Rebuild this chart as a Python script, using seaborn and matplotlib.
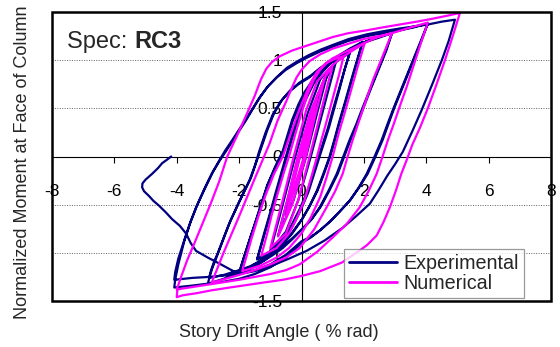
import matplotlib
matplotlib.use("Agg")
import matplotlib.pyplot as plt
from matplotlib.lines import Line2D
from matplotlib.patches import Rectangle
import pandas as pd
import seaborn as sns

# ---- Story drift (% rad) vs normalized moment at column face, specimen RC3 ----
# Experimental response, one list of (drift, moment) per drift level
exp_050 = [(0.0, 0.0), (0.25, 0.3), (0.55, 0.62), (0.3, 0.3), (0.1, 0.0), (-0.2, -0.3),
           (-0.5, -0.6), (-0.3, -0.3), (-0.05, 0.0), (0.25, 0.35), (0.55, 0.62)]
exp_075 = [(0.8, 0.82), (0.5, 0.45), (0.15, 0.0), (-0.25, -0.45), (-0.75, -0.82),
           (-0.45, -0.45), (-0.1, 0.0), (0.3, 0.45), (0.8, 0.82)]
exp_100 = [(1.1, 0.98), (0.75, 0.55), (0.3, 0.0), (-0.1, -0.45), (-0.5, -0.78), (-1.0, -0.98),
           (-0.7, -0.62), (-0.4, -0.25), (-0.2, 0.0), (0.2, 0.45), (0.6, 0.8), (1.1, 0.98)]
exp_150 = [(1.55, 1.08), (1.38, 0.9), (1.2, 0.7), (1.02, 0.5), (0.85, 0.3), (0.55, 0.0),
           (0.2, -0.35), (-0.05, -0.54), (-0.3, -0.7), (-0.55, -0.84), (-0.85, -0.95),
           (-1.15, -1.02), (-1.42, -1.06), (-1.2, -0.8), (-1.02, -0.6), (-0.85, -0.4),
           (-0.5, 0.0), (-0.3, 0.22), (-0.1, 0.42), (0.12, 0.6), (0.35, 0.75), (0.62, 0.87),
           (0.9, 0.96), (1.2, 1.03), (1.55, 1.08),
           (1.38, 0.9), (1.22, 0.7), (1.05, 0.5), (0.88, 0.3), (0.58, 0.0), (0.22, -0.37),
           (-0.03, -0.56), (-0.28, -0.72), (-0.55, -0.86), (-0.85, -0.97), (-1.15, -1.03),
           (-1.42, -1.07), (-1.18, -0.8), (-1.0, -0.6), (-0.82, -0.4), (-0.47, 0.0),
           (-0.27, 0.22), (-0.07, 0.42), (0.15, 0.6), (0.38, 0.75), (0.65, 0.87),
           (0.93, 0.97), (1.22, 1.04), (1.56, 1.09)]
exp_200 = [(1.96, 1.19), (1.78, 1.0), (1.6, 0.8), (1.4, 0.57), (1.2, 0.35), (1.05, 0.17),
           (0.9, 0.0), (0.7, -0.18), (0.5, -0.35), (0.25, -0.52), (0.0, -0.66), (-0.3, -0.8),
           (-0.6, -0.91), (-0.9, -1.0), (-1.2, -1.08), (-1.6, -1.16), (-2.0, -1.22),
           (-1.85, -1.05), (-1.68, -0.88), (-1.5, -0.7), (-1.3, -0.5), (-1.1, -0.3),
           (-0.85, -0.11), (-0.6, 0.06), (-0.45, 0.22), (-0.3, 0.38), (-0.1, 0.54),
           (0.1, 0.67), (0.35, 0.79), (0.6, 0.89), (0.9, 0.98), (1.2, 1.05), (1.55, 1.12),
           (1.96, 1.19),
           (1.8, 1.0), (1.62, 0.8), (1.42, 0.57), (1.22, 0.35), (1.07, 0.17), (0.92, 0.0),
           (0.72, -0.18), (0.52, -0.35), (0.27, -0.51), (0.02, -0.65), (-0.3, -0.79),
           (-0.6, -0.9), (-0.9, -0.99), (-1.2, -1.06), (-1.6, -1.14), (-2.0, -1.2),
           (-1.83, -1.03), (-1.66, -0.86), (-1.47, -0.68), (-1.27, -0.48), (-1.07, -0.28),
           (-0.82, -0.1), (-0.57, 0.06), (-0.42, 0.22), (-0.27, 0.38), (-0.07, 0.53),
           (0.13, 0.66), (0.37, 0.78), (0.62, 0.88), (0.92, 0.97), (1.22, 1.04),
           (1.57, 1.11), (1.97, 1.18)]
exp_300 = [(2.45, 1.23), (2.9, 1.28), (2.7, 1.1), (2.45, 0.9), (2.2, 0.7), (1.95, 0.5),
           (1.75, 0.33), (1.54, 0.17), (1.34, 0.0), (1.13, -0.18), (0.86, -0.36),
           (0.58, -0.53), (0.3, -0.66), (0.0, -0.76), (-0.3, -0.86), (-0.6, -0.95),
           (-0.95, -1.03), (-1.3, -1.1), (-1.65, -1.16), (-2.0, -1.2), (-2.5, -1.27),
           (-3.0, -1.32), (-2.95, -1.25), (-2.85, -1.15), (-2.73, -1.05), (-2.53, -0.88),
           (-2.32, -0.7), (-2.0, -0.47), (-1.67, -0.25), (-1.5, -0.1), (-1.35, 0.06),
           (-1.15, 0.25), (-0.93, 0.43), (-0.67, 0.57), (-0.4, 0.67), (-0.1, 0.75),
           (0.25, 0.82), (0.55, 0.9), (0.9, 0.98), (1.2, 1.04), (1.5, 1.1), (1.85, 1.16),
           (2.2, 1.21), (2.55, 1.25), (2.9, 1.28),
           (2.72, 1.1), (2.47, 0.9), (2.22, 0.7), (1.98, 0.5), (1.78, 0.33), (1.57, 0.17),
           (1.37, 0.0), (1.16, -0.18), (0.9, -0.35), (0.62, -0.52), (0.33, -0.65),
           (0.03, -0.75), (-0.3, -0.85), (-0.6, -0.93), (-0.95, -1.01), (-1.3, -1.08),
           (-1.65, -1.14), (-2.0, -1.18), (-2.5, -1.23), (-2.96, -1.26), (-2.9, -1.18),
           (-2.8, -1.09), (-2.68, -1.0), (-2.48, -0.83), (-2.27, -0.66), (-1.95, -0.44),
           (-1.62, -0.22), (-1.46, -0.07), (-1.3, 0.08), (-1.1, 0.27), (-0.88, 0.45),
           (-0.62, 0.59), (-0.35, 0.69), (-0.05, 0.77), (0.3, 0.84), (0.6, 0.92),
           (0.95, 0.99), (1.25, 1.05), (1.55, 1.11), (1.9, 1.17), (2.25, 1.22),
           (2.6, 1.26), (2.93, 1.29)]
exp_400 = [(3.5, 1.34), (4.05, 1.38), (3.8, 1.18), (3.55, 0.98), (3.25, 0.74), (2.95, 0.5),
           (2.75, 0.33), (2.57, 0.17), (2.33, -0.01), (2.09, -0.18), (1.82, -0.33),
           (1.54, -0.46), (1.2, -0.58), (0.9, -0.68), (0.58, -0.77), (0.3, -0.84),
           (0.0, -0.9), (-0.5, -1.05), (-1.0, -1.15), (-1.5, -1.22), (-2.0, -1.27),
           (-2.5, -1.3), (-3.0, -1.32), (-3.5, -1.34), (-4.08, -1.36), (-4.05, -1.28),
           (-3.95, -1.12), (-3.76, -0.88), (-3.58, -0.7), (-3.38, -0.53), (-3.12, -0.34),
           (-2.88, -0.18), (-2.65, -0.05), (-2.45, 0.06), (-2.2, 0.18), (-2.0, 0.28),
           (-1.8, 0.38), (-1.6, 0.48), (-1.35, 0.61), (-1.1, 0.72), (-0.8, 0.82),
           (-0.5, 0.9), (-0.15, 0.97), (0.2, 1.03), (0.6, 1.09), (1.0, 1.14), (1.5, 1.2),
           (2.1, 1.25), (2.6, 1.28), (3.15, 1.31), (3.6, 1.34), (4.05, 1.38),
           (3.82, 1.18), (3.57, 0.98), (3.27, 0.74), (2.97, 0.5), (2.78, 0.33),
           (2.6, 0.17), (2.36, -0.01), (2.12, -0.18), (1.85, -0.32), (1.57, -0.45),
           (1.23, -0.57), (0.93, -0.67), (0.62, -0.76), (0.32, -0.83), (0.0, -0.88),
           (-0.5, -1.02), (-1.0, -1.12), (-1.5, -1.18), (-2.0, -1.22), (-2.96, -1.25),
           (-3.5, -1.26), (-4.08, -1.28), (-4.05, -1.2), (-3.95, -1.06), (-3.73, -0.84),
           (-3.55, -0.67), (-3.34, -0.5), (-3.08, -0.32), (-2.84, -0.16), (-2.62, -0.04),
           (-2.41, 0.06), (-2.17, 0.18), (-1.97, 0.28), (-1.77, 0.38), (-1.57, 0.49),
           (-1.32, 0.62), (-1.07, 0.73), (-0.77, 0.83), (-0.47, 0.92), (-0.12, 0.99),
           (0.22, 1.05), (0.62, 1.11), (1.02, 1.16), (1.52, 1.22), (2.12, 1.27),
           (2.62, 1.3), (3.17, 1.33), (3.62, 1.35), (4.05, 1.37)]
exp_500 = [(4.5, 1.4), (4.92, 1.42), (4.72, 1.2), (4.5, 1.0), (4.18, 0.74), (3.85, 0.48),
           (3.55, 0.26), (3.25, 0.05), (3.0, -0.08), (2.75, -0.2), (2.47, -0.35),
           (2.19, -0.49), (1.75, -0.62), (1.32, -0.74), (0.75, -0.87), (0.16, -0.98),
           (-0.4, -1.06), (-1.0, -1.14), (-1.5, -1.19), (-2.0, -1.22), (-2.3, -1.17),
           (-2.64, -1.11), (-3.0, -1.05), (-3.38, -0.98), (-3.55, -0.9), (-3.7, -0.8),
           (-3.9, -0.72), (-4.15, -0.65), (-4.35, -0.58), (-4.57, -0.51), (-4.75, -0.46),
           (-4.89, -0.41), (-5.05, -0.36), (-5.11, -0.32), (-5.1, -0.28), (-5.0, -0.24),
           (-4.79, -0.18), (-4.6, -0.12), (-4.47, -0.07), (-4.3, -0.03), (-4.18, 0.0)]

# Numerical prediction
num_050 = [(0.0, 0.0), (0.5, 0.62), (0.08, 0.0), (-0.5, -0.62), (-0.05, 0.0), (0.5, 0.62)]
num_075 = [(0.75, 0.82), (0.42, 0.4), (0.14, 0.0), (-0.3, -0.5), (-0.75, -0.83),
           (-0.4, -0.38), (-0.12, 0.0), (0.3, 0.48), (0.75, 0.82)]
num_100 = [(1.0, 0.95), (0.65, 0.5), (0.3, 0.05), (-0.1, -0.45), (-0.5, -0.8), (-1.0, -0.95),
           (-0.6, -0.45), (-0.25, 0.0), (0.15, 0.48), (0.5, 0.78), (1.0, 0.95)]
num_150 = [(1.35, 1.04), (1.18, 0.82), (1.0, 0.6), (0.8, 0.36), (0.62, 0.15), (0.5, 0.0),
           (0.3, -0.23), (0.1, -0.45), (-0.15, -0.64), (-0.4, -0.8), (-0.8, -0.95),
           (-1.29, -1.03), (-1.1, -0.8), (-0.95, -0.6), (-0.75, -0.37), (-0.55, -0.15),
           (-0.4, 0.0), (-0.2, 0.23), (0.0, 0.45), (0.2, 0.65), (0.4, 0.8), (0.6, 0.9),
           (0.8, 0.97), (1.05, 1.01), (1.35, 1.04)]
num_200 = [(2.03, 1.18), (1.8, 0.93), (1.6, 0.7), (1.4, 0.47), (1.2, 0.25), (1.0, 0.0),
           (0.8, -0.22), (0.6, -0.42), (0.3, -0.63), (0.0, -0.8), (-0.4, -0.95),
           (-0.8, -1.05), (-1.3, -1.13), (-1.9, -1.19), (-1.6, -0.85), (-1.38, -0.62),
           (-1.15, -0.4), (-0.88, -0.18), (-0.6, 0.0), (-0.3, 0.28), (-0.1, 0.46),
           (0.1, 0.62), (0.3, 0.77), (0.5, 0.88), (0.75, 0.96), (1.0, 1.02), (1.5, 1.1),
           (2.03, 1.18)]
num_300 = [(2.45, 1.24), (2.9, 1.28), (2.6, 1.04), (2.3, 0.8), (1.95, 0.47), (1.64, 0.17),
           (1.48, 0.0), (1.32, -0.18), (1.08, -0.36), (0.8, -0.53), (0.4, -0.76),
           (-0.06, -0.95), (-0.5, -1.05), (-1.0, -1.12), (-1.5, -1.18), (-2.0, -1.23),
           (-2.88, -1.31), (-2.5, -1.0), (-2.0, -0.62), (-1.5, -0.23), (-1.2, 0.0),
           (-1.03, 0.13), (-0.77, 0.37), (-0.48, 0.58), (-0.3, 0.72), (-0.16, 0.82),
           (0.0, 0.9), (0.26, 0.99), (0.6, 1.06), (1.0, 1.12), (1.5, 1.17), (2.0, 1.22),
           (2.5, 1.25), (2.9, 1.28)]
num_400 = [(3.5, 1.34), (4.05, 1.39), (3.82, 1.17), (3.6, 0.95), (3.38, 0.73), (3.15, 0.52),
           (2.95, 0.33), (2.77, 0.17), (2.6, 0.0), (2.41, -0.18), (2.15, -0.36),
           (1.86, -0.53), (1.45, -0.7), (1.0, -0.84), (0.5, -0.99), (-0.06, -1.12),
           (-0.5, -1.18), (-1.0, -1.22), (-1.5, -1.25), (-2.0, -1.28), (-3.0, -1.33),
           (-4.0, -1.38), (-3.85, -1.24), (-3.67, -1.08), (-3.42, -0.89), (-3.18, -0.7),
           (-2.9, -0.48), (-2.64, -0.26), (-2.38, 0.0), (-2.09, 0.2), (-1.77, 0.43),
           (-1.5, 0.63), (-1.3, 0.8), (-1.13, 0.91), (-0.95, 0.98), (-0.7, 1.04),
           (-0.3, 1.1), (0.26, 1.16), (1.0, 1.24), (1.5, 1.28), (2.09, 1.31), (2.6, 1.34),
           (3.15, 1.37), (3.7, 1.4), (4.2, 1.43), (4.65, 1.46)]
num_500 = [(5.08, 1.49), (4.85, 1.25), (4.6, 1.0), (4.32, 0.74), (4.05, 0.5), (3.8, 0.3),
           (3.55, 0.12), (3.38, -0.03), (3.2, -0.18), (3.02, -0.36), (2.83, -0.53),
           (2.63, -0.68), (2.41, -0.82), (2.1, -0.92), (1.8, -0.99), (1.3, -1.1),
           (0.6, -1.19), (0.0, -1.24), (-0.6, -1.28), (-1.25, -1.31), (-2.3, -1.36),
           (-2.9, -1.39), (-3.38, -1.42), (-3.8, -1.44), (-4.0, -1.46), (-3.98, -1.38)]

exp_cycles = [exp_050, exp_075, exp_100, exp_150, exp_200, exp_300, exp_400, exp_500]
num_cycles = [num_050, num_075, num_100, num_150, num_200, num_300, num_400, num_500]

series_names = ["Experimental", "Numerical"]
series_colors = ["#000080", "#FF00FF"]

x_ticks = [-8, -6, -4, -2, 0, 2, 4, 6, 8]
y_ticks = [-1.5, -1, -0.5, 0, 0.5, 1, 1.5]
y_tick_labels = ["-1.5", "-1", "-0.5", "0", "0.5", "1", "1.5"]
grid_levels = [-1, -0.5, 0.5, 1]

# ---- assemble long table ----
rows = []
for name, cycles in zip(series_names, [exp_cycles, num_cycles]):
    order = 0
    for cyc in cycles:
        for d, m in cyc:
            rows.append({"series": name, "order": order, "drift": d, "moment": m})
            order += 1
df = pd.DataFrame(rows)

sns.set_theme(style="white")
plt.rcParams["font.family"] = ["Liberation Sans", "DejaVu Sans"]
plt.rcParams["axes.unicode_minus"] = False

fig = plt.figure(figsize=(5.6, 3.47), dpi=100)
ax = fig.add_axes([52 / 560, 1 - 301 / 347, 499 / 560, 289 / 347])

for lv in grid_levels:
    ax.axhline(lv, color="#606060", lw=0.7, ls=(0, (1, 1.5)), zorder=1)

sns.lineplot(data=df, x="drift", y="moment", hue="series", palette=series_colors,
             hue_order=series_names, sort=False, estimator=None, units="series",
             linewidth=1.6, legend=False, ax=ax, zorder=3)
for ln in ax.get_lines():
    ln.set_solid_joinstyle("round")

ax.set_xlim(-8, 8)
ax.set_ylim(-1.5, 1.5)

# axes crossing at the origin, plus heavy outer frame
for s in ["left", "bottom"]:
    ax.spines[s].set_position(("data", 0))
    ax.spines[s].set_linewidth(0.8)
    ax.spines[s].set_color("black")
    ax.spines[s].set_zorder(2)
for s in ["top", "right"]:
    ax.spines[s].set_visible(False)
ax.add_patch(Rectangle((0, 0), 1, 1, transform=ax.transAxes, fill=False,
                       lw=1.8, edgecolor="black", clip_on=False, zorder=5))

ax.set_xticks(x_ticks)
ax.set_xticklabels([str(t) for t in x_ticks])
ax.set_yticks(y_ticks)
ax.set_yticklabels(y_tick_labels)
ax.tick_params(axis="x", direction="out", length=4.5, width=0.8, pad=15,
               labelsize=12.5, colors="black", bottom=True)
ax.tick_params(axis="y", direction="out", length=3, width=0.8, pad=11,
               labelsize=12.5, colors="black", left=True)

ax.set_xlabel("Story Drift Angle ( % rad)", fontsize=13)
ax.xaxis.set_label_coords(0.455, -0.11)
ax.xaxis.label.set_va("center")
ax.set_ylabel("Normalized Moment at Face of Column", fontsize=13)
ax.yaxis.set_label_coords(-0.06, 0.48)
ax.yaxis.label.set_va("center")

ax.text(0.03, 0.875, "Spec: ", transform=ax.transAxes, fontsize=17, va="baseline")
ax.text(0.166, 0.875, "RC3", transform=ax.transAxes, fontsize=17,
        fontweight="bold", va="baseline")

handles = [Line2D([0], [0], color=c, lw=2) for c in series_colors]
leg = ax.legend(handles, series_names, loc="upper left",
                bbox_to_anchor=((344 - 52) / 499, (301 - 249) / 289),
                fontsize=14.2, frameon=True, fancybox=False,
                handlelength=2.45, handletextpad=0.3, borderpad=0.25,
                labelspacing=0.05, borderaxespad=0)
leg.get_frame().set_edgecolor("#808080")
leg.get_frame().set_linewidth(0.9)
leg.get_frame().set_facecolor("white")
leg.set_zorder(6)

fig.savefig("out.png", dpi=100)
